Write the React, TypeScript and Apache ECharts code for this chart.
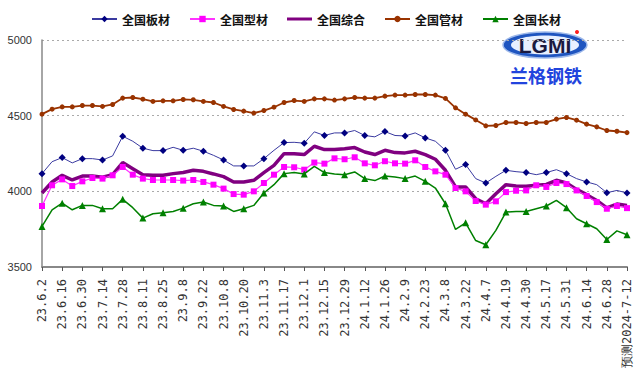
import React, { useEffect, useRef } from "react";
import * as echarts from "echarts";

const categories = [
  "23.6.2", "23.6.9", "23.6.16", "23.6.23", "23.6.30", "23.7.7", "23.7.14", "23.7.21",
  "23.7.28", "23.8.4", "23.8.11", "23.8.18", "23.8.25", "23.9.1", "23.9.8", "23.9.15",
  "23.9.22", "23.9.28", "23.10.8", "23.10.13", "23.10.20", "23.10.27", "23.11.3", "23.11.10",
  "23.11.17", "23.11.24", "23.12.1", "23.12.8", "23.12.15", "23.12.22", "23.12.29", "24.1.5",
  "24.1.12", "24.1.19", "24.1.26", "24.2.2", "24.2.9", "24.2.18", "24.2.23", "24.3.1",
  "24.3.8", "24.3.15", "24.3.22", "24.3.29", "24.4.7", "24.4.12", "24.4.19", "24.4.26",
  "24.4.30", "24.5.10", "24.5.17", "24.5.24", "24.5.31", "24.6.7", "24.6.14", "24.6.21",
  "24.6.28", "24.7.5", "预测2024-7-12",
];

const plate = [
  4117, 4196, 4223, 4188, 4216, 4216, 4207, 4234, 4364, 4331, 4285, 4269, 4269, 4291, 4271, 4285,
  4265, 4238, 4207, 4168, 4168, 4168, 4216, 4271, 4322, 4324, 4318, 4393, 4369, 4386, 4386, 4402,
  4369, 4360, 4395, 4369, 4366, 4386, 4353, 4331, 4271, 4146, 4177, 4084, 4055, 4099, 4139, 4130,
  4124, 4110, 4124, 4143, 4117, 4084, 4062, 4044, 3991, 4006, 3989,
];

const section = [
  3903, 4040, 4079, 4035, 4066, 4088, 4084, 4106, 4161, 4110, 4084, 4075, 4075, 4075, 4071, 4075,
  4062, 4044, 4018, 3982, 3978, 4000, 4055, 4110, 4161, 4159, 4143, 4190, 4183, 4218, 4212, 4225,
  4185, 4172, 4199, 4185, 4183, 4205, 4161, 4132, 4110, 4022, 4000, 3936, 3912, 3934, 3995, 4004,
  4006, 4040, 4029, 4055, 4048, 4006, 3969, 3929, 3885, 3903, 3889,
];

const composite = [
  3989, 4062, 4106, 4075, 4101, 4101, 4093, 4110, 4190, 4150, 4110, 4106, 4106, 4117, 4124, 4139,
  4132, 4115, 4097, 4062, 4062, 4073, 4124, 4172, 4249, 4249, 4243, 4298, 4276, 4276, 4282, 4289,
  4260, 4243, 4271, 4256, 4254, 4265, 4243, 4212, 4139, 4029, 4029, 3951, 3918, 3984, 4044, 4035,
  4033, 4040, 4046, 4073, 4055, 4013, 3978, 3940, 3890, 3916, 3907,
];

const pipe = [
  4510, 4543, 4558, 4558, 4567, 4567, 4561, 4574, 4616, 4620, 4609, 4594, 4598, 4598, 4607, 4605,
  4594, 4587, 4561, 4541, 4530, 4517, 4534, 4556, 4587, 4600, 4594, 4611, 4611, 4603, 4611, 4620,
  4616, 4616, 4629, 4636, 4636, 4640, 4640, 4636, 4614, 4552, 4510, 4472, 4433, 4435, 4455, 4455,
  4448, 4455, 4455, 4477, 4488, 4470, 4444, 4426, 4402, 4397, 4388,
];

const longSteel = [
  3768, 3878, 3922, 3878, 3907, 3907, 3885, 3885, 3947, 3892, 3823, 3852, 3859, 3867, 3889, 3918,
  3929, 3907, 3903, 3867, 3885, 3907, 3989, 4044, 4117, 4124, 4115, 4165, 4124, 4115, 4110, 4128,
  4084, 4071, 4101, 4095, 4084, 4101, 4066, 4022, 3918, 3748, 3792, 3675, 3647, 3742, 3863, 3867,
  3867, 3885, 3903, 3940, 3892, 3819, 3786, 3753, 3682, 3739, 3713,
];

const seriesNames = ["全国板材", "全国型材", "全国综合", "全国管材", "全国长材"];
const yMin = 3500;
const yMax = 5000;
const yStep = 500;

export default function App() {
  const ref = useRef<HTMLDivElement>(null);

  useEffect(() => {
    if (!ref.current) return;
    const chart = echarts.init(ref.current, undefined, { renderer: "svg" });
    chart.setOption({
      animation: false,
      backgroundColor: "#ffffff",
      legend: {
        left: 86,
        top: 8,
        itemWidth: 25,
        itemHeight: 8,
        itemGap: 19,
        data: [
          seriesNames[0],
          seriesNames[1],
          { name: seriesNames[2], icon: "path://M0,0 L25,0 L25,3 L0,3 Z" },
          seriesNames[3],
          seriesNames[4],
        ],
        textStyle: {
          fontSize: 12,
          fontFamily: "Noto Sans CJK SC",
          fontWeight: "bold",
          color: "#111",
        },
      },
      grid: { left: 42, right: 13, top: 40, bottom: 111, containLabel: false },
      xAxis: {
        type: "category",
        data: categories,
        boundaryGap: false,
        axisLine: { lineStyle: { color: "#888888", width: 2 } },
        axisTick: { interval: 1, length: 4, lineStyle: { color: "#555" } },
        axisLabel: {
          interval: 1,
          rotate: 90,
          margin: 12,
          fontSize: 12,
          fontFamily: "DejaVu Sans Mono",
          color: "#333",
        },
        splitLine: { show: false },
      },
      yAxis: {
        type: "value",
        min: yMin,
        max: yMax,
        interval: yStep,
        axisLine: { show: true, lineStyle: { color: "#888888", width: 1.5 } },
        axisTick: { show: false },
        axisLabel: {
          fontSize: 11,
          fontFamily: "Liberation Sans",
          color: "#333",
          margin: 10,
          formatter: (v: number) => String(v),
        },
        splitLine: { lineStyle: { color: "#aaaaaa", type: [2, 3], width: 1 } },
      },
      series: [
        {
          name: seriesNames[0],
          type: "line",
          data: plate,
          symbol: "diamond",
          symbolSize: 7,
          lineStyle: { color: "#3a3aa0", width: 1 },
          itemStyle: { color: "#000080" },
          z: 4,
        },
        {
          name: seriesNames[1],
          type: "line",
          data: section,
          symbol: "rect",
          symbolSize: 6,
          lineStyle: { color: "#ff33ff", width: 1.2 },
          itemStyle: { color: "#ff00ff" },
          z: 3,
        },
        {
          name: seriesNames[2],
          type: "line",
          data: composite,
          symbol: "none",
          lineStyle: { color: "#800080", width: 3.5 },
          itemStyle: { color: "#800080" },
          z: 2,
        },
        {
          name: seriesNames[3],
          type: "line",
          data: pipe,
          symbol: "circle",
          symbolSize: 5,
          lineStyle: { color: "#993300", width: 1.8 },
          itemStyle: { color: "#993300" },
          z: 4,
        },
        {
          name: seriesNames[4],
          type: "line",
          data: longSteel,
          symbol: "triangle",
          symbolSize: 7,
          lineStyle: { color: "#008000", width: 1.5 },
          itemStyle: { color: "#008000" },
          z: 4,
        },
      ],
      graphic: [
        {
          type: "group",
          z: 100,
          children: [
            { type: "rect", shape: { x: 499, y: 30, width: 90, height: 56 }, style: { fill: "#ffffff" } },
            {
              type: "ellipse",
              shape: { cx: 545, cy: 45, rx: 42, ry: 13 },
              style: { fill: "#1f55c0", stroke: "#9db8ea", lineWidth: 1.5 },
            },
            {
              type: "ellipse",
              shape: { cx: 545, cy: 45, rx: 34, ry: 9.5 },
              style: { fill: "#e8f0ff" },
            },
            {
              type: "text",
              x: 545,
              y: 45,
              style: {
                text: "LGMI",
                fontSize: 21,
                fontWeight: "bold",
                fontFamily: "Liberation Sans",
                fill: "#1a1a40",
                align: "center",
                verticalAlign: "middle",
              },
            },
            { type: "circle", shape: { cx: 577, cy: 32, r: 2 }, style: { fill: "#ff2020" } },
            {
              type: "text",
              x: 546,
              y: 75,
              style: {
                text: "兰格钢铁",
                fontSize: 18,
                fontWeight: "bold",
                fontFamily: "Noto Sans CJK SC",
                fill: "#2244dd",
                align: "center",
                verticalAlign: "middle",
              },
            },
          ],
        },
      ],
    });
    return () => chart.dispose();
  }, []);

  return (
    <div
      ref={ref}
      style={{ position: "fixed", left: 0, top: 0, width: 640, height: 378 }}
    />
  );
}
